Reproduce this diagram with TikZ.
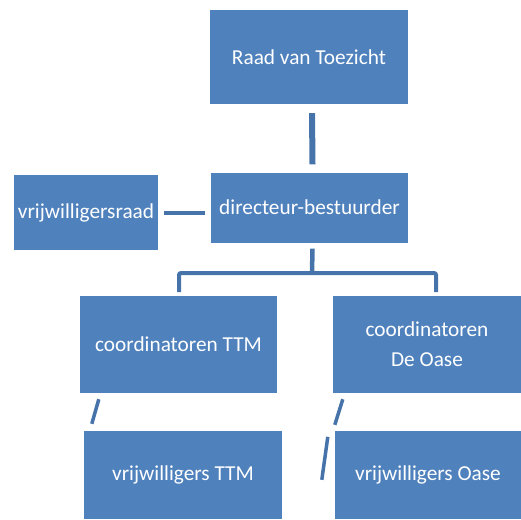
\documentclass[tikz,border=0pt]{standalone}
\usepackage{fontspec}
\setmainfont{Carlito}
\usepackage{tikz}
\definecolor{boxblue}{RGB}{79,129,189}
\definecolor{lineblue}{RGB}{70,116,170}
\tikzset{
  orgbox/.style={rectangle,fill=boxblue,text=white,inner sep=2pt,align=center,
    font=\fontsize{21.3}{30}\selectfont},
  conn/.style={draw=lineblue,line width=4.5pt},
}
\begin{document}
\begin{tikzpicture}[x=1pt,y=-1pt]
\useasboundingbox (0,0) rectangle (521,519);
\node[orgbox,minimum width=198,minimum height=94] (raad) at (309,57) {Raad van Toezicht};
\node[orgbox,minimum width=197,minimum height=70] (dir) at (309.5,207.5) {directeur-bestuurder};
\node[orgbox,minimum width=144,minimum height=75] (vraad) at (86,212.5) {vrijwilligersraad};
\node[orgbox,minimum width=197,minimum height=97] (cttm) at (178.5,344.5) {coordinatoren TTM};
\node[orgbox,minimum width=188,minimum height=97] (coase) at (427,344.5) {coordinatoren\\De Oase};
\node[orgbox,minimum width=198,minimum height=88] (vttm) at (183,475) {vrijwilligers TTM};
\node[orgbox,minimum width=186,minimum height=88] (voase) at (428,475) {vrijwilligers Oase};
%lines between the boxes
\coordinate (split) at (312,273);
\coordinate (lft) at (179,292);
\coordinate (rgt) at (436,292);
\draw[conn,line width=6pt] ([xshift=3pt,yshift=-9pt]raad.south) -- ([xshift=3pt,yshift=8pt]dir.north);
\draw[conn,line width=4pt] ([xshift=6pt]vraad.east) -- ([xshift=-6pt]vraad.east -| dir.west);
\draw[conn] ([xshift=3pt,yshift=-6pt]dir.south) -- (split);
\draw[conn,line width=4pt,rounded corners=2pt] (lft) |- (split) -| (rgt);
%slanted strokes
\draw[conn,line width=3.5pt] ([xshift=19pt,yshift=-6pt]cttm.south west) -- ([xshift=8pt,yshift=7pt]vttm.north west);
\draw[conn,line width=3.5pt] ([xshift=10pt,yshift=-6pt]coase.south west) -- ([yshift=6pt]voase.north west);
\draw[conn,line width=3.5pt] ([xshift=-7pt,yshift=-6pt]voase.north west) -- ([xshift=-13pt,yshift=-49pt]voase.north west);
\end{tikzpicture}
\end{document}
